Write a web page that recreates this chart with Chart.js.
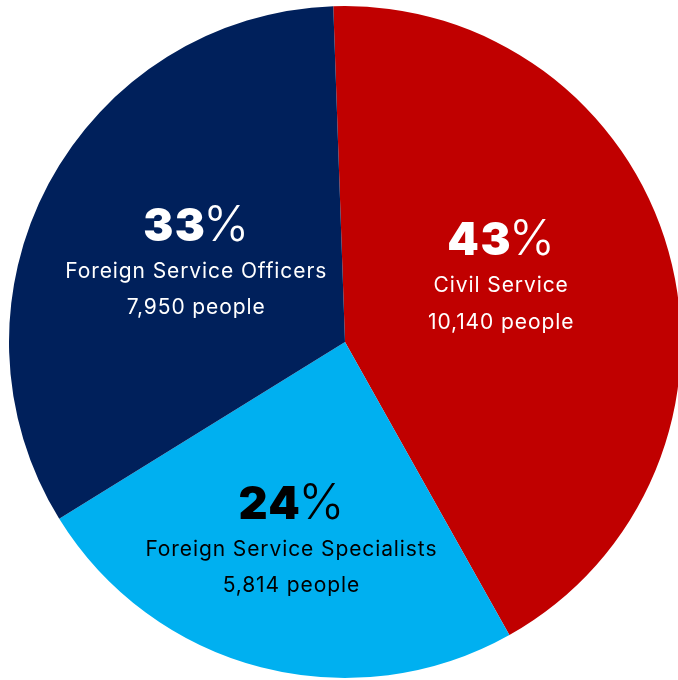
<!DOCTYPE html>
<html>
<head>
<meta charset="utf-8">
<script src="https://cdn.jsdelivr.net/npm/chart.js@4/dist/chart.umd.min.js"></script>
<style>
  html, body { margin: 0; padding: 0; background: #ffffff; overflow: hidden; width: 678px; height: 680px; }
  #c { position: absolute; left: 0; top: 0; }
</style>
</head>
<body>
<canvas id="c" width="690" height="690"></canvas>
<script>
// ---- data ----
const categories = ['Civil Service', 'Foreign Service Specialists', 'Foreign Service Officers'];
const people = [10140, 5814, 7950];
const percentNumbers = ['43', '24', '33'];
const peopleLabels = ['10,140 people', '5,814 people', '7,950 people'];

// ---- styles ----
const sliceColors = ['#C00000', '#00B0F0', '#00205B'];
const textColors = ['#ffffff', '#000000', '#ffffff'];
// label placement: fraction of radius along slice mid-angle, plus angle shift (deg)
const labelRadius = [0.505, 0.609, 0.504];
const labelShift = [-7.4, 0.7, 0.4];

const labelPlugin = {
  id: 'sliceLabels',
  afterDatasetsDraw(chart) {
    const ctx = chart.ctx;
    const meta = chart.getDatasetMeta(0);
    meta.data.forEach((arc, i) => {
      const p = arc.getProps(['x', 'y', 'startAngle', 'endAngle', 'outerRadius'], true);
      const mid = (p.startAngle + p.endAngle) / 2 + labelShift[i] * Math.PI / 180;
      const d = p.outerRadius * labelRadius[i];
      const cx = p.x + Math.cos(mid) * d;
      const cy = p.y + Math.sin(mid) * d;
      ctx.save();
      ctx.fillStyle = textColors[i];
      ctx.textBaseline = 'alphabetic';
      // percentage: heavy digits + lighter percent sign
      const numFont = '900 45px Inter';
      const pctFont = '300 49px Inter';
      ctx.font = numFont;
      ctx.letterSpacing = '1.5px';
      const wNum = ctx.measureText(percentNumbers[i]).width;
      ctx.font = pctFont;
      ctx.letterSpacing = '0px';
      const wPct = ctx.measureText('%').width;
      const gap = -3;
      const startX = cx - (wNum + gap + wPct) / 2;
      ctx.textAlign = 'left';
      ctx.font = numFont;
      ctx.letterSpacing = '1.5px';
      ctx.fillText(percentNumbers[i], startX, cy - 20.5);
      ctx.font = pctFont;
      ctx.letterSpacing = '0px';
      ctx.fillText('%', startX + wNum + gap, cy - 20.5);
      // category and people lines
      ctx.textAlign = 'center';
      ctx.font = '400 21px Inter';
      ctx.letterSpacing = '0.9px';
      ctx.fillText(categories[i], cx, cy + 16.5);
      ctx.fillText(peopleLabels[i], cx, cy + 53);
      ctx.restore();
    });
  }
};

new Chart(document.getElementById('c'), {
  type: 'pie',
  data: {
    labels: categories,
    datasets: [{
      data: people,
      backgroundColor: sliceColors,
      borderWidth: 0,
      hoverOffset: 0
    }]
  },
  options: {
    responsive: false,
    animation: false,
    rotation: -2,
    layout: { padding: { left: 9, right: 9, top: 6, bottom: 12 } },
    plugins: {
      legend: { display: false },
      tooltip: { enabled: false }
    }
  },
  plugins: [labelPlugin]
});
</script>
</body>
</html>
